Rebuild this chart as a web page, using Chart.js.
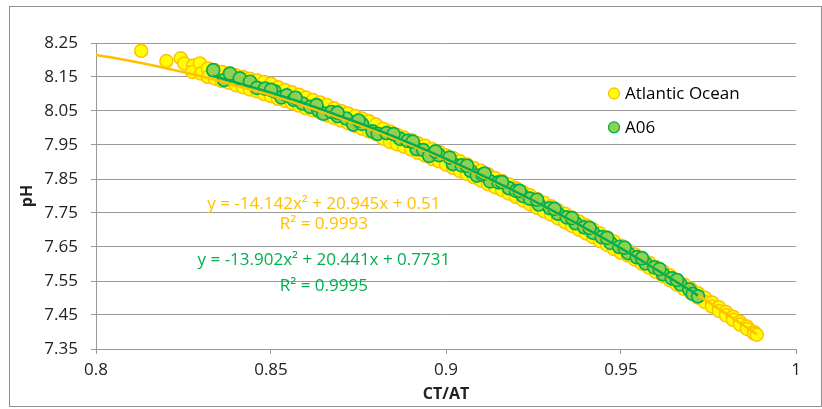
<!DOCTYPE html>
<html>
<head>
<meta charset="utf-8">
<script src="https://cdn.jsdelivr.net/npm/chart.js@4.4.1/dist/chart.umd.min.js"></script>
<style>
html,body{margin:0;padding:0;background:#fff;}
#wrap{width:822px;height:409px;position:relative;}
</style>
</head>
<body>
<div id="wrap"><canvas id="c"></canvas></div>
<script>
// ---- DATA ----
const seriesNames = ['Atlantic Ocean', 'A06'];

const atlanticCtAt = [
  0.8129,0.8201,0.8242,0.8252,0.8278,0.8275,0.8297,0.8300,0.8320,0.8320,
  0.8340,0.8340,0.8360,0.8360,0.8380,0.8380,0.8400,0.8400,0.8420,0.8420,
  0.8440,0.8440,0.8460,0.8460,0.8480,0.8480,0.8500,0.8500,0.8520,0.8520,
  0.8540,0.8540,0.8560,0.8560,0.8580,0.8580,0.8600,0.8600,0.8620,0.8620,
  0.8640,0.8640,0.8660,0.8660,0.8680,0.8680,0.8700,0.8700,0.8720,0.8720,
  0.8740,0.8740,0.8760,0.8760,0.8780,0.8780,0.8800,0.8800,
  0.882,0.882,0.884,0.884,0.886,0.886,0.888,0.888,0.890,0.890,
  0.892,0.892,0.894,0.894,0.896,0.896,0.898,0.898,0.900,0.900,
  0.902,0.902,0.904,0.904,0.906,0.906,0.908,0.908,0.910,0.910,
  0.912,0.912,0.914,0.914,0.916,0.916,0.918,0.918,0.920,0.920,
  0.922,0.922,0.924,0.924,0.926,0.926,0.928,0.928,0.930,0.930,
  0.932,0.932,0.934,0.934,0.936,0.936,0.938,0.938,0.940,0.940,
  0.942,0.942,0.944,0.944,0.946,0.946,0.948,0.948,0.950,0.950,
  0.952,0.952,0.954,0.954,0.956,0.956,0.958,0.958,0.960,0.960,
  0.962,0.962,0.964,0.964,0.966,0.966,0.968,0.968,0.970,0.970,
  0.972,0.972,0.974,0.974,0.976,0.976,0.978,0.978,0.980,0.980,
  0.982,0.982,0.984,0.984,0.986,0.986,0.988,0.988,0.9888
];
const atlanticPh = [
  8.227,8.197,8.205,8.190,8.184,8.165,8.190,8.160,8.175,8.150,
  8.170,8.145,8.165,8.138,8.160,8.133,8.155,8.126,8.150,8.120,
  8.145,8.113,8.140,8.108,8.135,8.100,8.130,8.094,8.120,8.086,
  8.112,8.080,8.105,8.073,8.098,8.066,8.090,8.058,8.082,8.052,
  8.075,8.045,8.068,8.037,8.058,8.030,8.050,8.022,8.043,8.014,
  8.035,8.006,8.028,7.998,8.020,7.990,8.010,7.982,
  7.998,7.969,7.990,7.959,7.980,7.952,7.972,7.945,7.965,7.937,
  7.955,7.927,7.948,7.919,7.938,7.909,7.930,7.902,7.920,7.892,
  7.912,7.883,7.902,7.873,7.893,7.865,7.882,7.855,7.874,7.845,
  7.864,7.835,7.853,7.826,7.844,7.817,7.834,7.807,7.823,7.797,
  7.812,7.787,7.802,7.776,7.791,7.765,7.780,7.755,7.770,7.745,
  7.758,7.734,7.748,7.723,7.737,7.712,7.725,7.701,7.714,7.690,
  7.702,7.679,7.690,7.667,7.678,7.656,7.666,7.644,7.654,7.633,
  7.640,7.625,7.628,7.613,7.616,7.601,7.604,7.589,7.591,7.577,
  7.579,7.564,7.566,7.552,7.553,7.539,7.540,7.527,7.527,7.514,
  7.514,7.501,7.501,7.488,7.487,7.475,7.473,7.462,7.459,7.449,
  7.445,7.436,7.430,7.422,7.416,7.409,7.400,7.395,7.392
];

const a06CtAt = [
  0.8335,0.8366,0.8383,0.8411,0.8440,0.8460,0.8483,0.8510,0.8530,0.8545,
  0.8565,0.8590,0.8612,0.8635,0.8650,0.8673,0.8690,0.8715,0.8735,0.8760,
  0.8790,0.8805,0.8830,0.8869,0.8890,0.8916,0.8935,0.8952,0.8980,0.9020,
  0.9045,0.9070,0.9088,0.9105,0.9126,0.9150,0.9180,0.9200,0.9220,0.9240,
  0.9265,0.9297,0.9320,0.9345,0.9370,0.9395,0.9420,0.9445,0.9470,0.9495,
  0.9520,0.9545,0.9570,0.9595,0.9620,0.9645,0.9670,0.9695,0.9705,0.9720,
  0.8500,0.8570,0.8630,0.8690,0.8750,0.8850,0.8905,0.8970,0.9010,0.9060,
  0.9110,0.9160,0.9210,0.9260,0.9310,0.9360,0.9410,0.9460,0.9510,0.9560,
  0.9610,0.9660
];
const a06Ph = [
  8.170,8.141,8.160,8.146,8.136,8.118,8.116,8.108,8.090,8.096,
  8.083,8.072,8.062,8.052,8.042,8.047,8.035,8.028,8.010,8.012,
  7.990,7.983,7.985,7.968,7.962,7.938,7.935,7.918,7.920,7.894,
  7.890,7.874,7.860,7.862,7.843,7.840,7.823,7.815,7.800,7.792,
  7.775,7.764,7.748,7.737,7.720,7.708,7.692,7.679,7.662,7.650,
  7.632,7.620,7.602,7.590,7.570,7.558,7.540,7.525,7.512,7.505,
  8.112,8.089,8.067,8.045,8.022,7.982,7.960,7.931,7.913,7.889,
  7.866,7.841,7.815,7.789,7.762,7.735,7.706,7.677,7.648,7.617,
  7.585,7.553
];

// polynomial trend lines
const atlanticTrendCtAt = [0.80,0.81,0.82,0.83,0.84,0.85,0.86,0.87,0.88,0.89,0.90,
  0.91,0.92,0.93,0.94,0.95,0.96,0.97,0.98,0.9888];
const atlanticTrendPh = [8.215,8.197,8.176,8.152,8.125,8.096,8.063,8.028,7.990,7.949,7.906,
  7.859,7.810,7.758,7.702,7.645,7.584,7.521,7.454,7.393];
const a06TrendCtAt = [0.8335,0.84,0.85,0.86,0.87,0.88,0.89,0.90,0.91,0.92,0.93,
  0.94,0.95,0.96,0.97,0.972];
const a06TrendPh = [8.153,8.134,8.104,8.071,8.034,7.996,7.954,7.909,7.862,7.812,7.759,
  7.704,7.646,7.584,7.521,7.507];

const equationTexts = [
  ['y = -14.142x² + 20.945x + 0.51', 'R² = 0.9993'],
  ['y = -13.902x² + 20.441x + 0.7731', 'R² = 0.9995']
];

const xTicks = [0.8, 0.85, 0.9, 0.95, 1];
const xTickLabels = ['0.8', '0.85', '0.9', '0.95', '1'];
const yTicks = [7.35, 7.45, 7.55, 7.65, 7.75, 7.85, 7.95, 8.05, 8.15, 8.25];
const yTickLabels = ['7.35','7.45','7.55','7.65','7.75','7.85','7.95','8.05','8.15','8.25'];

const xTitle = 'CT/AT';
const yTitle = 'pH';

// ---- STYLE ----
const FONT = '"Open Sans", Lato, "Noto Sans", sans-serif';
const GRID = '#9a9a9a';
const YEL_FILL = '#FFFF00', YEL_LINE = '#FFC000';
const GRN_FILL = '#92D050', GRN_LINE = '#00B050';

const toPts = (xs, ys) => xs.map((x, i) => ({x: x, y: ys[i]}));

const decor = {
  id: 'decor',
  beforeDraw(chart) {
    const ctx = chart.ctx;
    ctx.save();
    ctx.fillStyle = '#fff';
    ctx.fillRect(0, 0, chart.width, chart.height);
    ctx.restore();
  },
  afterDraw(chart) {
    const ctx = chart.ctx;
    const ca = chart.chartArea;
    const xs = chart.scales.x, ys = chart.scales.y;
    ctx.save();
    // outer chart border
    ctx.strokeStyle = '#8f8f8f';
    ctx.lineWidth = 1;
    ctx.strokeRect(9.5, 6.5, 812, 400);

    // legend
    const legendItems = [
      {name: seriesNames[0], fill: YEL_FILL, line: YEL_LINE, dy: 50.5},
      {name: seriesNames[1], fill: GRN_FILL, line: GRN_LINE, dy: 84.3}
    ];
    ctx.font = '17px ' + FONT;
    ctx.textBaseline = 'middle';
    ctx.textAlign = 'left';
    legendItems.forEach(it => {
      const cx = ca.right - 182, cy = ca.top + it.dy;
      ctx.beginPath();
      ctx.arc(cx, cy, 5.5, 0, Math.PI * 2);
      ctx.fillStyle = it.fill; ctx.fill();
      ctx.lineWidth = 1.3; ctx.strokeStyle = it.line; ctx.stroke();
      ctx.fillStyle = '#000';
      ctx.fillText(it.name, cx + 11, cy + 1);
    });

    // trendline equations
    ctx.textAlign = 'center';
    ctx.font = '17px ' + FONT;
    const ex = xs.getPixelForValue(0.8651);
    ctx.fillStyle = YEL_LINE;
    ctx.fillText(equationTexts[0][0], ex, ys.getPixelForValue(7.777));
    ctx.fillText(equationTexts[0][1], ex, ys.getPixelForValue(7.717));
    ctx.fillStyle = GRN_LINE;
    ctx.fillText(equationTexts[1][0], ex, ys.getPixelForValue(7.610));
    ctx.fillText(equationTexts[1][1], ex, ys.getPixelForValue(7.534));
    ctx.restore();
  }
};

new Chart(document.getElementById('c'), {
  type: 'scatter',
  data: {
    datasets: [
      {
        label: seriesNames[1] + ' trend', type: 'line', order: 0,
        data: toPts(a06TrendCtAt, a06TrendPh),
        borderColor: GRN_LINE, borderWidth: 2.5, pointRadius: 0, fill: false, tension: 0.3
      },
      {
        label: seriesNames[0] + ' trend', type: 'line', order: 1,
        data: toPts(atlanticTrendCtAt, atlanticTrendPh),
        borderColor: YEL_LINE, borderWidth: 2.5, pointRadius: 0, fill: false, tension: 0.3
      },
      {
        label: seriesNames[1], order: 2,
        data: toPts(a06CtAt, a06Ph),
        backgroundColor: GRN_FILL, borderColor: GRN_LINE, borderWidth: 1.7,
        pointRadius: 6.5, pointHoverRadius: 6.5
      },
      {
        label: seriesNames[0], order: 3,
        data: toPts(atlanticCtAt, atlanticPh),
        backgroundColor: YEL_FILL, borderColor: YEL_LINE, borderWidth: 1.5,
        pointRadius: 6.5, pointHoverRadius: 6.5
      }
    ]
  },
  options: {
    responsive: true,
    maintainAspectRatio: false,
    animation: false,
    events: [],
    layout: {padding: {left: 9, top: 43, right: 26, bottom: 4}},
    plugins: {
      legend: {display: false},
      tooltip: {enabled: false}
    },
    scales: {
      x: {
        type: 'linear', min: 0.8, max: 1,
        afterBuildTicks: s => { s.ticks = xTicks.map(v => ({value: v})); },
        afterFit: s => { s.height = 56; },
        ticks: {
          autoSkip: false, maxRotation: 0, padding: 6,
          color: '#222', font: {family: FONT, size: 17},
          callback: (v, i) => xTickLabels[i]
        },
        grid: {drawOnChartArea: false, drawTicks: true, tickLength: 5, color: GRID, lineWidth: 1},
        border: {display: true, color: GRID, width: 1},
        title: {display: true, text: xTitle, color: '#222',
          font: {family: FONT, size: 16, weight: 'bold'}, padding: {top: 0, bottom: 1}}
      },
      y: {
        type: 'linear', min: 7.35, max: 8.25,
        afterBuildTicks: s => { s.ticks = yTicks.map(v => ({value: v})); },
        afterFit: s => { s.width = 87; },
        ticks: {
          padding: 13, color: '#222', font: {family: FONT, size: 17},
          callback: (v, i) => yTickLabels[i]
        },
        grid: {drawOnChartArea: true, drawTicks: true, tickLength: 5, color: GRID, lineWidth: 1},
        border: {display: true, color: GRID, width: 1},
        title: {display: true, text: yTitle, color: '#222',
          font: {family: FONT, size: 16, weight: 'bold'}, padding: {top: 9, bottom: 0}}
      }
    }
  },
  plugins: [decor]
});
</script>
</body>
</html>
